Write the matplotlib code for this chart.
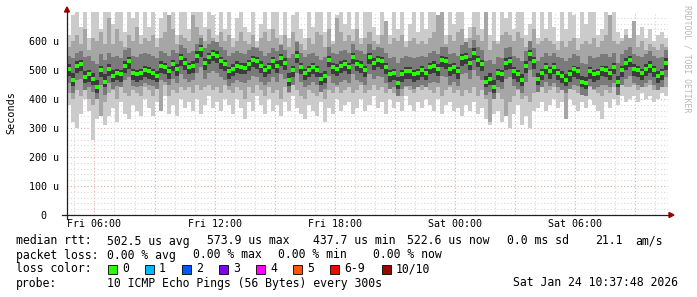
import matplotlib
matplotlib.use('Agg')
import matplotlib.pyplot as plt
import numpy as np
from matplotlib.patches import Rectangle, Polygon

plt.rcParams['font.family'] = ['DejaVu Sans Mono', 'DejaVu Sans']

# time axis: hours since Fri 00:00, one sample every 12 minutes
T0 = 4.63
STEP = 0.2

# median rtt (us)
median = [505, 465, 515, 520, 475, 485, 470, 440, 500, 460,
          505, 480, 490, 485, 515, 530, 490, 485, 490, 500,
          495, 488, 480, 515, 510, 495, 520, 505, 540, 525,
          510, 515, 550, 572, 525, 545, 554, 550, 530, 520,
          495, 505, 515, 512, 508, 520, 535, 530, 515, 500,
          512, 530, 515, 540, 525, 466, 500, 550, 512, 490,
          500, 512, 500, 470, 480, 535, 510, 505, 515, 522,
          510, 545, 520, 515, 500, 545, 523, 535, 530, 510,
          485, 490, 455, 485, 495, 495, 486, 490, 500, 490,
          510, 515, 505, 535, 532, 505, 512, 495, 540, 546,
          525, 560, 535, 520, 460, 470, 440, 490, 485, 525,
          530, 495, 485, 466, 515, 555, 530, 470, 490, 512,
          495, 510, 490, 480, 465, 485, 502, 495, 460, 455,
          495, 485, 490, 502, 500, 490, 510, 460, 500, 525,
          535, 505, 500, 490, 505, 515, 500, 480, 490, 525]

# smoke: min/max of the pings
outer_hi = [620, 690, 700, 650, 700, 610, 700, 700, 640, 700,
            700, 660, 700, 700, 630, 700, 680, 700, 620, 700,
            650, 700, 610, 680, 700, 640, 700, 620, 700, 700,
            640, 700, 700, 700, 650, 700, 690, 620, 700, 640,
            700, 610, 680, 700, 650, 630, 700, 600, 660, 700,
            640, 700, 700, 620, 700, 610, 690, 700, 640, 610,
            700, 650, 700, 700, 630, 700, 600, 690, 700, 660,
            700, 640, 700, 610, 700, 700, 650, 620, 700, 660,
            620, 700, 640, 700, 600, 660, 700, 630, 700, 640,
            700, 700, 650, 700, 620, 700, 660, 700, 700, 610,
            650, 700, 700, 640, 700, 620, 700, 600, 700, 680,
            700, 640, 700, 700, 620, 660, 700, 610, 700, 640,
            700, 650, 600, 700, 640, 700, 690, 610, 700, 660,
            700, 700, 620, 640, 700, 650, 700, 630, 610, 640,
            600, 640, 620, 650, 610, 640, 600, 620, 630, 610]
outer_lo = [380, 320, 300, 350, 400, 360, 260, 330, 380, 310,
            340, 370, 320, 390, 350, 330, 380, 360, 340, 400,
            370, 340, 390, 360, 410, 350, 380, 340, 400, 370,
            390, 360, 400, 350, 380, 410, 370, 390, 360, 400,
            380, 350, 400, 370, 330, 390, 360, 410, 380, 350,
            400, 360, 380, 340, 390, 360, 410, 370, 350, 330,
            380, 360, 340, 390, 320, 370, 350, 400, 360, 380,
            390, 350, 370, 400, 360, 380, 410, 370, 390, 350,
            400, 370, 390, 360, 410, 380, 360, 390, 370, 400,
            380, 360, 400, 350, 380, 390, 360, 370, 340, 380,
            360, 390, 350, 370, 330, 310, 350, 360, 320, 340,
            300, 350, 380, 310, 340, 300, 360, 370, 390, 360,
            380, 400, 370, 390, 350, 400, 380, 360, 390, 370,
            400, 380, 360, 330, 390, 370, 400, 380, 410, 390,
            400, 410, 390, 420, 400, 410, 390, 400, 420, 410]

mid_hi = [580, 600, 620, 590, 640, 570, 610, 600, 630, 590,
          680, 590, 640, 600, 580, 620, 600, 650, 590, 610,
          600, 620, 580, 610, 630, 690, 640, 590, 620, 610,
          600, 690, 650, 620, 600, 640, 610, 590, 630, 600,
          620, 580, 600, 630, 600, 590, 620, 580, 610, 630,
          600, 640, 610, 590, 620, 580, 630, 600, 590, 570,
          610, 590, 630, 620, 580, 640, 590, 680, 630, 600,
          620, 600, 640, 590, 610, 630, 600, 590, 620, 670,
          590, 610, 600, 620, 580, 600, 610, 590, 600, 590,
          610, 630, 690, 700, 590, 620, 600, 630, 640, 590,
          610, 650, 620, 600, 700, 570, 600, 590, 620, 630,
          620, 600, 630, 610, 580, 600, 640, 590, 600, 610,
          600, 590, 570, 600, 580, 600, 610, 570, 590, 600,
          590, 610, 580, 600, 620, 690, 600, 590, 600, 620,
          610, 670, 580, 600, 570, 590, 580, 570, 590, 580]
mid_lo = [420, 400, 430, 410, 440, 400, 380, 410, 340, 390,
          420, 430, 400, 440, 420, 410, 430, 420, 410, 440,
          430, 410, 440, 360, 450, 410, 430, 420, 440, 430,
          440, 420, 450, 430, 440, 450, 430, 440, 420, 450,
          430, 420, 440, 430, 400, 440, 420, 450, 430, 410,
          440, 420, 430, 400, 440, 420, 450, 430, 410, 400,
          430, 420, 410, 440, 400, 430, 420, 440, 420, 430,
          440, 420, 430, 450, 420, 430, 450, 430, 440, 420,
          440, 420, 430, 410, 440, 430, 420, 440, 430, 440,
          430, 420, 440, 410, 430, 440, 420, 430, 410, 430,
          420, 440, 410, 430, 400, 320, 410, 420, 400, 340,
          390, 410, 430, 400, 410, 390, 420, 430, 440, 420,
          430, 440, 420, 430, 330, 440, 430, 420, 430, 420,
          440, 430, 420, 410, 430, 420, 440, 430, 450, 440,
          440, 450, 430, 450, 440, 450, 430, 440, 450, 440]

inner_hi = [550, 540, 560, 565, 545, 550, 530, 520, 555, 535,
            560, 545, 550, 540, 570, 575, 550, 545, 555, 560,
            555, 550, 540, 565, 560, 550, 570, 560, 585, 575,
            560, 565, 590, 610, 575, 590, 600, 595, 580, 570,
            550, 560, 565, 560, 555, 570, 580, 575, 565, 550,
            560, 575, 565, 585, 570, 540, 555, 595, 560, 545,
            555, 560, 550, 535, 545, 580, 560, 555, 565, 570,
            560, 590, 570, 565, 555, 590, 570, 580, 575, 560,
            540, 545, 525, 540, 550, 545, 540, 545, 550, 545,
            560, 565, 555, 580, 580, 555, 560, 550, 585, 595,
            575, 605, 580, 570, 530, 535, 520, 545, 540, 575,
            580, 550, 540, 530, 565, 600, 575, 530, 545, 560,
            550, 560, 545, 540, 530, 540, 555, 550, 525, 520,
            550, 540, 545, 555, 555, 545, 560, 525, 555, 570,
            580, 555, 550, 545, 555, 565, 550, 540, 545, 570]
inner_lo = [455, 420, 465, 470, 430, 440, 425, 400, 450, 415,
            455, 435, 445, 440, 465, 475, 445, 440, 445, 455,
            450, 445, 435, 465, 460, 450, 470, 455, 485, 470,
            460, 465, 490, 510, 470, 490, 495, 490, 475, 465,
            445, 455, 465, 460, 455, 465, 480, 475, 460, 450,
            460, 475, 460, 485, 470, 425, 450, 490, 460, 440,
            450, 460, 450, 425, 435, 480, 455, 450, 460, 465,
            455, 485, 465, 460, 450, 485, 470, 480, 475, 455,
            435, 440, 410, 435, 445, 445, 435, 440, 450, 440,
            455, 460, 455, 480, 475, 450, 460, 445, 485, 490,
            470, 500, 480, 465, 415, 425, 400, 440, 435, 470,
            475, 445, 435, 420, 460, 500, 475, 425, 440, 460,
            445, 455, 440, 430, 420, 435, 450, 445, 415, 410,
            445, 435, 440, 450, 450, 440, 455, 415, 450, 470,
            480, 455, 450, 440, 455, 465, 450, 430, 440, 475]

core_hi = [520, 490, 530, 535, 495, 500, 490, 465, 515, 485,
           520, 500, 505, 500, 530, 545, 505, 500, 505, 515,
           510, 505, 495, 530, 525, 510, 535, 520, 555, 540,
           525, 530, 565, 585, 540, 560, 570, 565, 545, 535,
           510, 520, 530, 525, 525, 535, 550, 545, 530, 515,
           525, 545, 530, 555, 540, 490, 515, 565, 525, 505,
           515, 525, 515, 490, 495, 550, 525, 520, 530, 535,
           525, 560, 535, 530, 515, 560, 540, 550, 545, 525,
           500, 505, 475, 500, 510, 510, 500, 505, 515, 505,
           525, 530, 520, 550, 545, 520, 525, 510, 555, 560,
           540, 575, 550, 535, 480, 490, 465, 505, 500, 540,
           545, 510, 500, 485, 530, 570, 545, 490, 505, 525,
           510, 525, 505, 495, 485, 500, 515, 510, 480, 475,
           510, 500, 505, 515, 515, 505, 525, 480, 515, 540,
           550, 520, 515, 505, 520, 530, 515, 495, 505, 540]
core_lo = [480, 445, 490, 495, 455, 460, 450, 420, 475, 440,
           480, 460, 465, 460, 490, 505, 465, 460, 465, 475,
           470, 465, 460, 490, 485, 470, 495, 480, 515, 500,
           485, 490, 525, 545, 500, 520, 530, 525, 505, 495,
           470, 480, 490, 485, 485, 495, 510, 505, 490, 475,
           485, 505, 490, 515, 500, 445, 475, 525, 485, 465,
           475, 485, 475, 450, 455, 510, 485, 480, 490, 495,
           485, 520, 495, 490, 475, 520, 500, 510, 505, 485,
           460, 465, 435, 460, 470, 470, 460, 465, 475, 465,
           485, 490, 480, 510, 505, 480, 485, 470, 515, 520,
           500, 535, 510, 495, 440, 450, 420, 465, 460, 500,
           505, 470, 460, 445, 490, 530, 505, 450, 465, 485,
           470, 485, 465, 455, 445, 460, 475, 470, 440, 435,
           470, 460, 465, 480, 475, 465, 485, 440, 475, 500,
           510, 480, 475, 465, 480, 490, 475, 455, 465, 500]

x_ticks = [6, 12, 18, 24, 30]
x_labels = ['Fri 06:00', 'Fri 12:00', 'Fri 18:00', 'Sat 00:00', 'Sat 06:00']
y_ticks = [0, 100, 200, 300, 400, 500, 600]
y_labels = ['0  ', '100 u', '200 u', '300 u', '400 u', '500 u', '600 u']

loss_labels = ['0', '1', '2', '3', '4', '5', '6-9', '10/10']
loss_colors = ['#26ff00', '#00b8ff', '#0059ff', '#7e00ff', '#ff00ff', '#ff5500', '#ff0000', '#a10000']

W, H = 697, 297
fig = plt.figure(figsize=(W / 100, H / 100), dpi=100, facecolor='white')
ax = fig.add_axes([67 / W, (H - 215) / H, 601 / W, 203 / H])
n = len(median)
edges = T0 + STEP * np.arange(n + 1)
centers = edges[:-1] + STEP / 2
ax.set_xlim(edges[0], edges[-1])
ax.set_ylim(0, 700)

# grid (rrdtool style dotted)
minor_c, major_c = '#d8d8d8', '#e8a8a8'
for v in range(20, 700, 20):
    ax.axhline(v, color=major_c if v % 100 == 0 else minor_c, lw=0.8, ls=(0, (1, 2)), zorder=0)
for h in range(5, 35):
    ax.axvline(h, color=major_c if h % 3 == 0 else minor_c, lw=0.8, ls=(0, (1, 2)), zorder=0)

for lo, hi, c in [(outer_lo, outer_hi, '#cbcbcb'), (mid_lo, mid_hi, '#a6a6a6'),
                  (inner_lo, inner_hi, '#7a7a7a'), (core_lo, core_hi, '#3c3c3c')]:
    ax.stairs(hi, edges, baseline=lo, fill=True, color=c, lw=0, zorder=2)
ax.plot(centers, median, 's', color=loss_colors[0], ms=2.4, mew=0, zorder=3)

ax.set_xticks(x_ticks)
ax.set_xticklabels(x_labels)
ax.set_yticks(y_ticks)
ax.set_yticklabels(y_labels)
ax.tick_params(axis='x', length=0, pad=3, labelsize=7.2)
ax.tick_params(axis='y', length=0, pad=5.8, labelsize=7.2)
for s in ax.spines.values():
    s.set_visible(False)
ax.patch.set_alpha(0)

# overlay in pixel coordinates for axes, arrows and legend
ov = fig.add_axes([0, 0, 1, 1])
ov.set_xlim(0, W)
ov.set_ylim(H, 0)
ov.axis('off')
ov.patch.set_alpha(0)
ov.plot([62, 669], [215, 215], color='#202020', lw=0.9)
ov.plot([67, 67], [219, 10], color='#202020', lw=0.9)
ov.add_patch(Polygon([(64.5, 12), (69.5, 12), (67, 7)], closed=True, color='#a00000'))
ov.add_patch(Polygon([(669, 212.5), (669, 217.5), (674, 215)], closed=True, color='#a00000'))

ov.text(11, 113, 'Seconds', rotation=90, ha='center', va='center', fontsize=7.3)
ov.text(687, 5, 'RRDTOOL / TOBI OETIKER', rotation=270, ha='center', va='top',
        fontsize=5.9, color='#b8b8b8')

fs = 8.3
row1 = [(16, 'median rtt:'), (107, '502.5 us avg'), (207, '573.9 us max'), (313, '437.7 us min'),
        (407, '522.6 us now'), (507, '0.0 ms sd'), (595, '21.1'), (635, 'am/s')]
row2 = [(16, 'packet loss:'), (107, '0.00 % avg'), (193, '0.00 % max'), (278, '0.00 % min'),
        (373, '0.00 % now')]
for x, t in row1:
    ov.text(x, 241, t, ha='left', va='center', fontsize=fs)
for x, t in row2:
    ov.text(x, 255, t, ha='left', va='center', fontsize=fs)
ov.text(16, 269, 'loss color:', ha='left', va='center', fontsize=fs)
box_x = [108, 145, 182, 219, 256, 293, 330, 382]
for bx, lab, c in zip(box_x, loss_labels, loss_colors):
    ov.add_patch(Rectangle((bx, 264.5), 9, 9, facecolor=c, edgecolor='black', lw=0.6))
    ov.text(bx + 14, 269, lab, ha='left', va='center', fontsize=fs)
ov.text(16, 283, 'probe:', ha='left', va='center', fontsize=fs)
ov.text(107, 283, '10 ICMP Echo Pings (56 Bytes) every 300s', ha='left', va='center', fontsize=fs)
ov.text(513, 283, 'Sat Jan 24 10:37:48 2026', ha='left', va='center', fontsize=fs)

fig.savefig('out.png', dpi=100, facecolor='white')
